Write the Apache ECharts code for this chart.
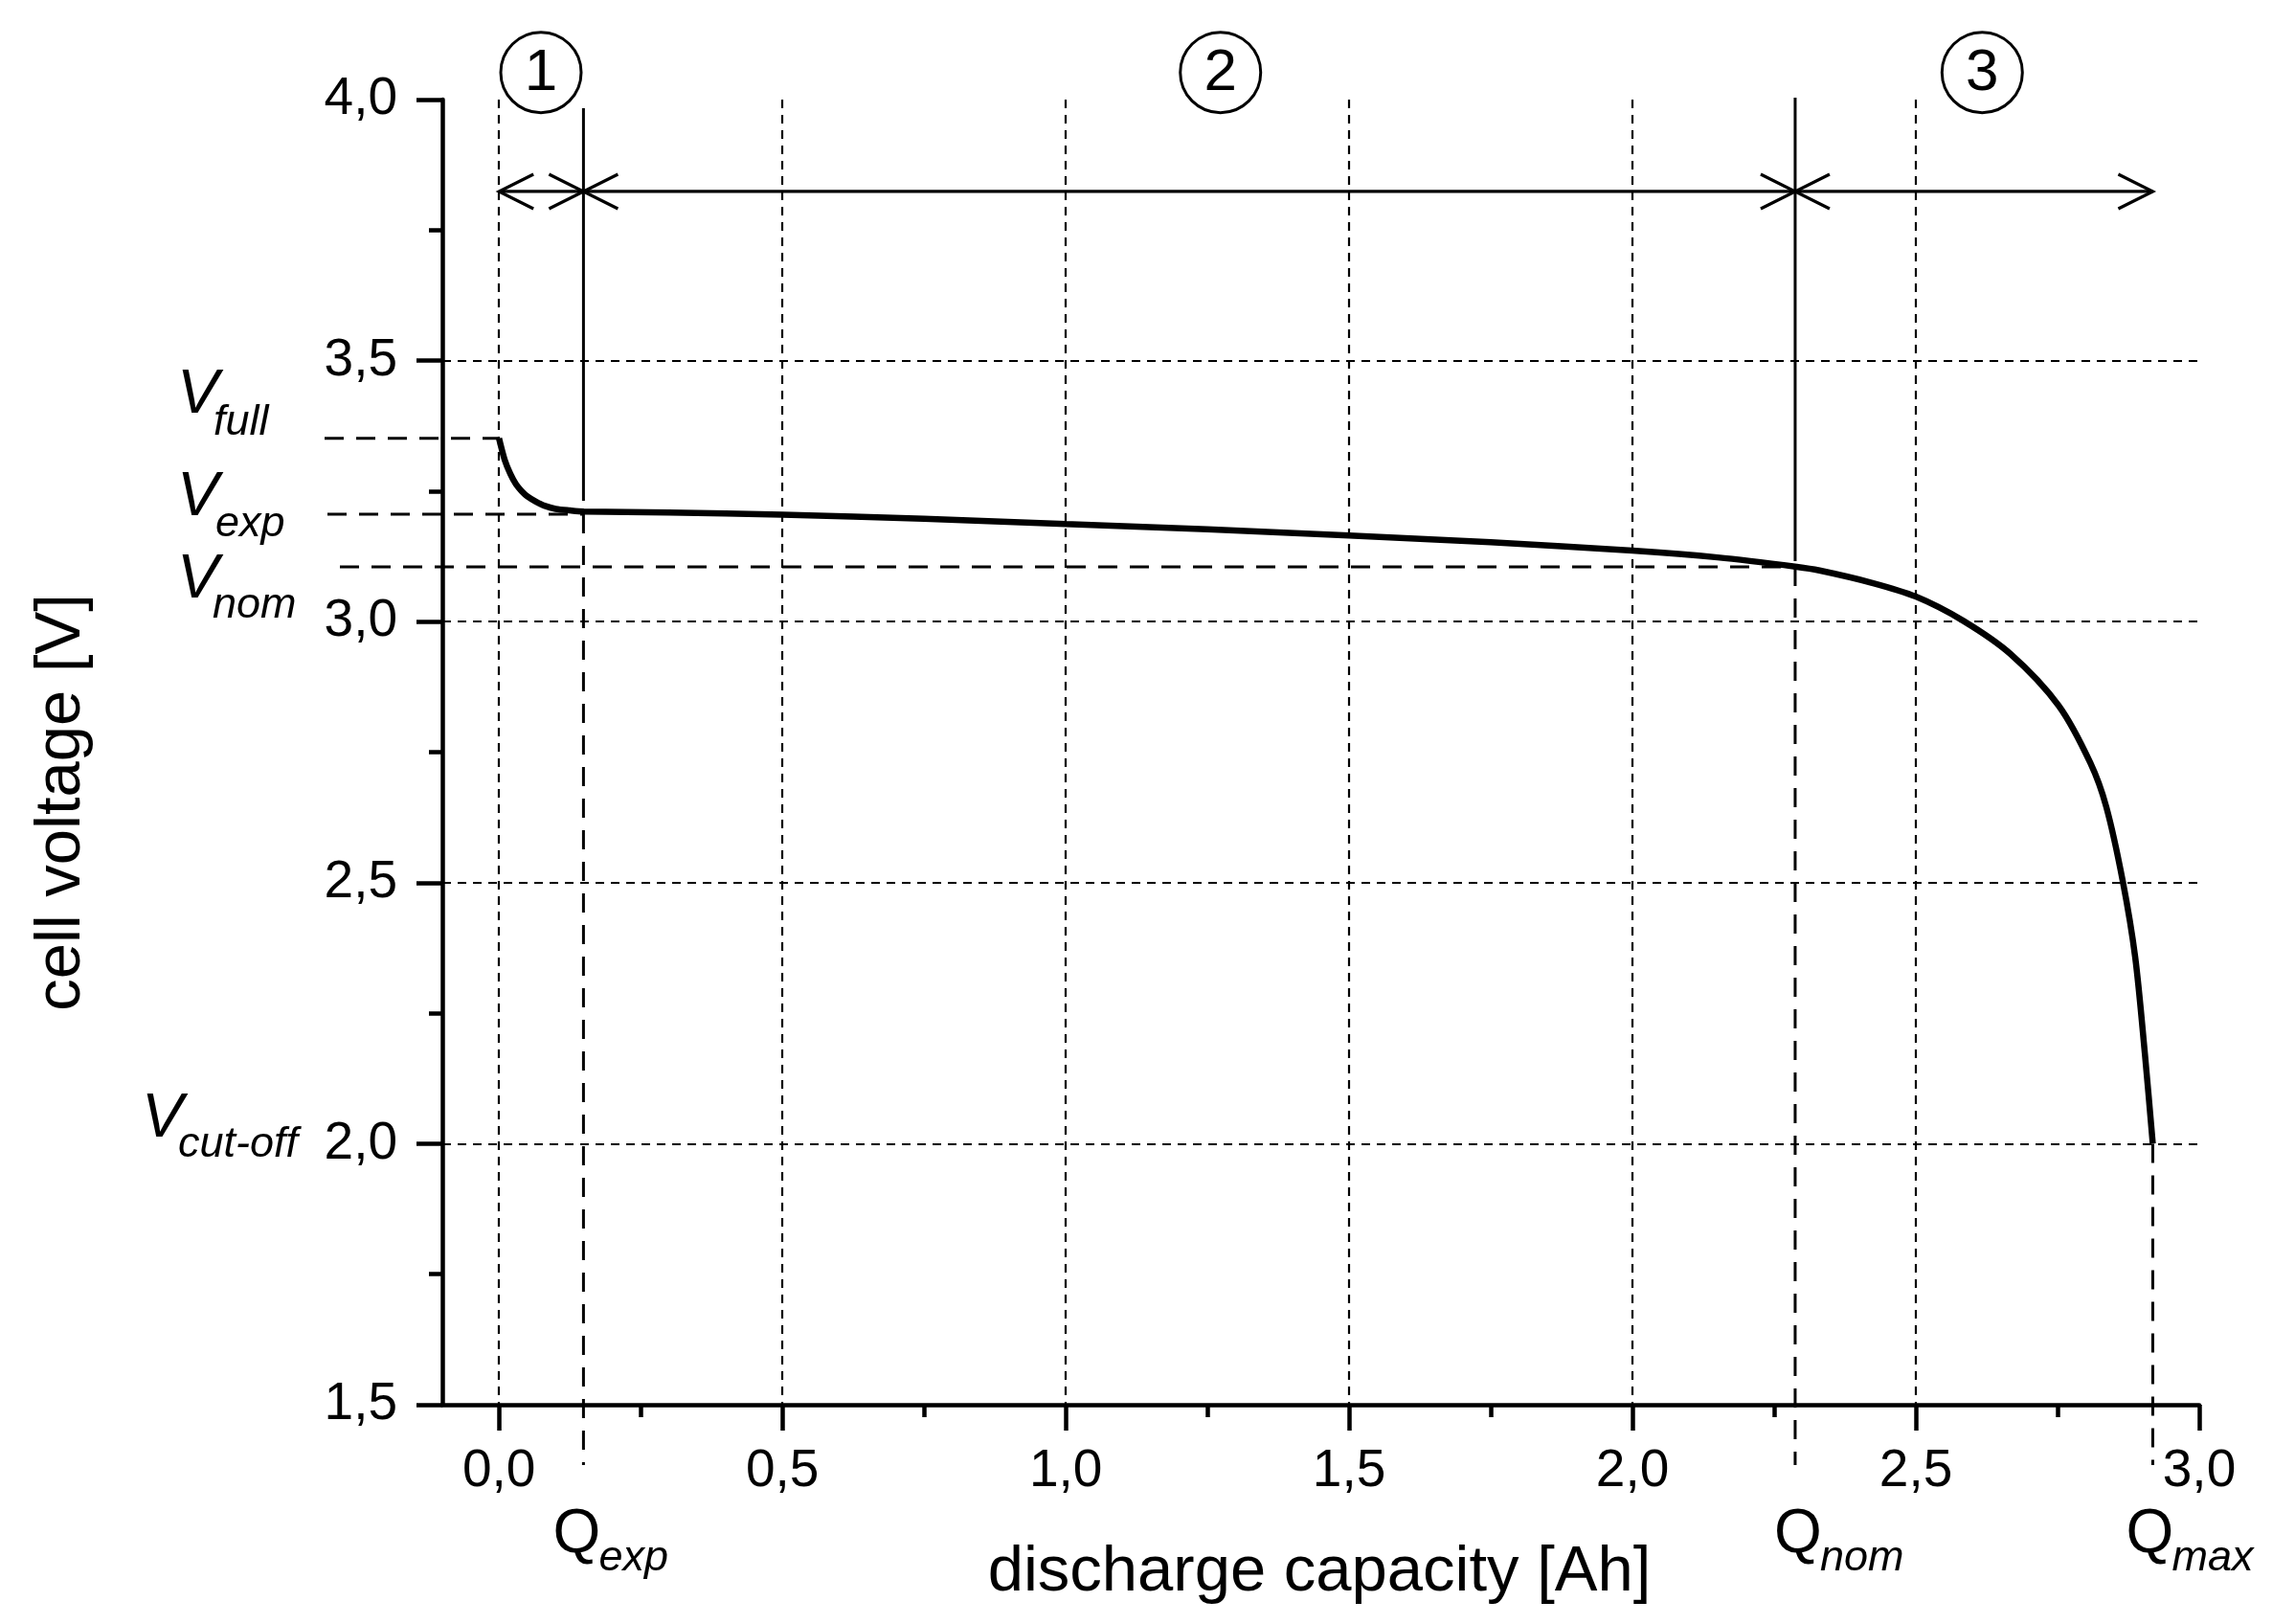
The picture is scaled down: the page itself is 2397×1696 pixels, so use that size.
<!DOCTYPE html>
<html><head><meta charset="utf-8">
<script src="https://cdn.jsdelivr.net/npm/echarts@6/dist/echarts.min.js"></script>
<style>html,body{margin:0;padding:0;background:#fff}#c{width:2397px;height:1696px}</style>
</head><body><div id="c"></div>
<script>
// ---- data ----
const capacity = [0, 0.01, 0.02, 0.03, 0.04, 0.05, 0.065, 0.08, 0.1, 0.125, 0.15, 0.3, 0.5, 0.75, 1.0, 1.25, 1.5, 1.75, 2.0, 2.15, 2.29, 2.33, 2.42, 2.5, 2.583, 2.667, 2.752, 2.808, 2.836, 2.865, 2.887, 2.904, 2.918];
const voltage  = [3.351, 3.31, 3.283, 3.263, 3.25, 3.24, 3.23, 3.222, 3.216, 3.213, 3.211, 3.209, 3.205, 3.197, 3.187, 3.177, 3.165, 3.152, 3.136, 3.123, 3.105, 3.098, 3.075, 3.048, 3.002, 2.938, 2.839, 2.729, 2.645, 2.503, 2.357, 2.173, 2.0];
const xTickValues = [0, 0.5, 1.0, 1.5, 2.0, 2.5, 3.0];
const levelNames = ['full', 'exp', 'nom', 'cut-off'];
const levelValues = [3.351, 3.206, 3.105, 2.0];
const capNames = ['exp', 'nom', 'max'];
const capValues = [0.149, 2.287, 2.918];
const regionLabels = ['1', '2', '3'];
const regionCenters = [0.074, 1.273, 2.617];
const regionBounds = [0, 0.149, 2.287, 2.918];
const arrowLevel = 3.824;
const regionLabelLevel = 4.052;
const xTitle = 'discharge capacity [Ah]';
const yTitle = 'cell voltage [V]';

const FONT = '"Liberation Sans", Arial, sans-serif';
const fmt = v => v.toFixed(1).replace('.', ',');
const DASH = [20, 13];
function dashed(x1, y1, x2, y2) {
  return {type: 'line', shape: {x1, y1, x2, y2}, style: {stroke: '#000', lineWidth: 3, lineDash: DASH}};
}
function solid(x1, y1, x2, y2, w) {
  return {type: 'line', shape: {x1, y1, x2, y2}, style: {stroke: '#000', lineWidth: w || 3}};
}
function txt(x, y, text, font, align) {
  return {type: 'text', style: {x, y, text, font, fill: '#000', align: align || 'left', verticalAlign: 'middle'}};
}

const chart = echarts.init(document.getElementById('c'), null, {renderer: 'canvas'});

const levelLineEnds = [0, capValues[0], capValues[1]];
const levelLineStartDx = [-123, -120, -107];
const vLeftDx = [-277, -277, -277, -314];
const vDy = [-45, -17, 14, -25];
const subDx = [38, 40, 37, 38];
const subDy = [-16, 11, 41, 1];
const qLeftDx = [-32, -22, -28];

const AXW = 4.5;
const option = {
  animation: false,
  backgroundColor: '#fff',
  grid: {left: 462, right: 100, top: 104, bottom: 229, containLabel: false},
  xAxis: {
    type: 'value', min: -0.1, max: 3.0,
    axisLine: {show: true, onZero: false, lineStyle: {color: '#000', width: AXW}},
    axisTick: {show: true, length: 27, customValues: xTickValues, lineStyle: {color: '#000', width: AXW}},
    minorTick: {show: true, splitNumber: 2, length: 13, lineStyle: {color: '#000', width: AXW}},
    axisLabel: {customValues: xTickValues, formatter: fmt, margin: 42, fontSize: 55, color: '#000', fontFamily: FONT},
    splitLine: {show: true, showMinLine: true, showMaxLine: false, lineStyle: {color: '#000', width: 2.2, type: [9, 7]}}
  },
  yAxis: {
    type: 'value', min: 1.5, max: 4.0, interval: 0.5,
    axisLine: {show: true, onZero: false, lineStyle: {color: '#000', width: AXW}},
    axisTick: {show: true, length: 27, lineStyle: {color: '#000', width: AXW}},
    minorTick: {show: true, splitNumber: 2, length: 14, lineStyle: {color: '#000', width: AXW}},
    axisLabel: {formatter: fmt, margin: 47, fontSize: 55, color: '#000', fontFamily: FONT},
    splitLine: {show: true, showMinLine: false, showMaxLine: false, lineStyle: {color: '#000', width: 2.2, type: [9, 7]}}
  },
  graphic: [
    {type: 'text', x: 1378, y: 1643, style: {text: xTitle, font: '67px ' + FONT, fill: '#000', align: 'center', verticalAlign: 'middle'}},
    {type: 'text', x: 65, y: 838, rotation: Math.PI / 2, style: {text: yTitle, font: '67px ' + FONT, fill: '#000', align: 'center', verticalAlign: 'middle'}}
  ],
  series: [
    {
      type: 'line', data: capacity.map((q, i) => [q, voltage[i]]),
      showSymbol: false, smooth: 0.3, clip: false,
      lineStyle: {color: '#000', width: 6.5}, z: 5
    },
    {
      type: 'custom', clip: false, z: 3,
      data: levelLineEnds.map((q, i) => [q, levelValues[i]]),
      renderItem: (params, api) => {
        const i = params.dataIndex;
        const end = api.coord([api.value(0), api.value(1)]);
        const ax = api.coord([-0.1, api.value(1)])[0];
        return dashed(ax + levelLineStartDx[i], end[1], end[0], end[1]);
      }
    },
    {
      type: 'custom', clip: false, z: 3,
      data: capValues.map((q, i) => [q, levelValues[i + 1]]),
      renderItem: (params, api) => {
        const i = params.dataIndex;
        const p = api.coord([api.value(0), api.value(1)]);
        const base = api.coord([api.value(0), 1.5]);
        const top = api.coord([api.value(0), 4.0]);
        const children = [dashed(p[0], p[1], p[0], base[1] + 63)];
        if (i === 0) children.push(solid(p[0], top[1] + 9, p[0], p[1] - 14));
        if (i === 1) children.push(solid(p[0], top[1] - 2, p[0], p[1] - 6));
        return {type: 'group', children};
      }
    },
    {
      type: 'custom', clip: false, z: 4,
      data: regionLabels.map((l, i) => [regionBounds[i], regionBounds[i + 1]]),
      renderItem: (params, api) => {
        const a = api.coord([api.value(0), arrowLevel]);
        const b = api.coord([api.value(1), arrowLevel]);
        const L = 36, H = 18;
        return {type: 'group', children: [
          solid(a[0], a[1], b[0], b[1], 3.2),
          {type: 'polyline', shape: {points: [[a[0] + L, a[1] - H], [a[0], a[1]], [a[0] + L, a[1] + H]]}, style: {stroke: '#000', lineWidth: 3.2, fill: null}},
          {type: 'polyline', shape: {points: [[b[0] - L, b[1] - H], [b[0], b[1]], [b[0] - L, b[1] + H]]}, style: {stroke: '#000', lineWidth: 3.2, fill: null}}
        ]};
      }
    },
    {
      type: 'custom', clip: false, z: 4,
      data: regionCenters.map(c => [c, regionLabelLevel]),
      renderItem: (params, api) => {
        const p = api.coord([api.value(0), api.value(1)]);
        return {type: 'group', children: [
          {type: 'circle', shape: {cx: p[0], cy: p[1], r: 42}, style: {fill: null, stroke: '#000', lineWidth: 3}},
          txt(p[0], p[1] + 1, regionLabels[params.dataIndex], '62px ' + FONT, 'center')
        ]};
      }
    },
    {
      type: 'custom', clip: false, z: 4,
      data: levelValues.map(v => [-0.1, v]),
      renderItem: (params, api) => {
        const i = params.dataIndex;
        const p = api.coord([api.value(0), api.value(1)]);
        const vx = p[0] + vLeftDx[i];
        return {type: 'group', children: [
          txt(vx, p[1] + vDy[i], 'V', 'italic 65px ' + FONT),
          txt(vx + subDx[i], p[1] + subDy[i], levelNames[i], 'italic 45px ' + FONT)
        ]};
      }
    },
    {
      type: 'custom', clip: false, z: 4,
      data: capValues.map(q => [q, 1.5]),
      renderItem: (params, api) => {
        const i = params.dataIndex;
        const p = api.coord([api.value(0), api.value(1)]);
        const qx = p[0] + qLeftDx[i];
        return {type: 'group', children: [
          txt(qx, p[1] + 136, 'Q', '64px ' + FONT),
          txt(qx + 48, p[1] + 160, capNames[i], 'italic 45px ' + FONT)
        ]};
      }
    }
  ]
};
chart.setOption(option);
</script>
</body></html>
